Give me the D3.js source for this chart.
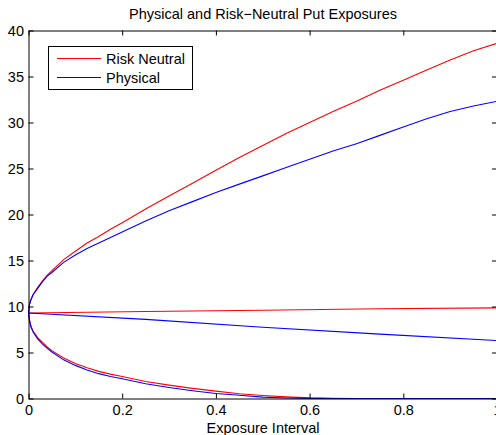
<!DOCTYPE html>
<html>
<head>
<meta charset="utf-8">
<script src="https://cdn.jsdelivr.net/npm/d3@7"></script>
<style>
  body { margin: 0; background: #fff; }
  svg text { font-family: "Liberation Sans", Arial, sans-serif; font-size: 14.5px; fill: #000; }
</style>
</head>
<body>
<div id="chart"></div>
<script>
// exposure interval grid for the upper and lower bands
var exposureTimes = [0, 0.002, 0.005, 0.01, 0.02, 0.03, 0.04, 0.05, 0.075, 0.1, 0.125, 0.15, 0.175, 0.2,
  0.25, 0.3, 0.35, 0.4, 0.45, 0.5, 0.55, 0.6, 0.65, 0.7, 0.75, 0.8, 0.85, 0.9, 0.95, 1.0];

// risk neutral (red)
var rnUpper = [9.3, 10.2, 10.7, 11.3, 12.1, 12.8, 13.4, 13.9, 15.1, 16.0, 16.9, 17.6, 18.4, 19.1,
  20.6, 22.0, 23.4, 24.8, 26.2, 27.5, 28.8, 30.0, 31.2, 32.3, 33.5, 34.6, 35.7, 36.8, 37.8, 38.6];
var rnLower = [9.3, 8.6, 7.9, 7.3, 6.6, 6.1, 5.6, 5.2, 4.4, 3.8, 3.35, 2.95, 2.65, 2.4,
  1.85, 1.45, 1.1, 0.8, 0.52, 0.33, 0.18, 0.07, 0.02, 0, 0, 0, 0, 0, 0, 0];

// physical (blue)
var phUpper = [9.3, 10.2, 10.7, 11.3, 12.0, 12.7, 13.3, 13.7, 14.8, 15.6, 16.3, 16.9, 17.5, 18.1,
  19.3, 20.4, 21.4, 22.4, 23.3, 24.2, 25.1, 26.0, 26.9, 27.7, 28.6, 29.5, 30.4, 31.2, 31.8, 32.3];
var phLower = [9.3, 8.5, 7.8, 7.2, 6.45, 5.9, 5.45, 5.05, 4.2, 3.6, 3.1, 2.7, 2.4, 2.15,
  1.6, 1.2, 0.85, 0.55, 0.35, 0.15, 0.06, 0.01, 0, 0, 0, 0, 0, 0, 0, 0];

// middle (expected) exposures are almost straight, coarser grid is enough
var middleTimes = [0, 0.25, 0.5, 0.75, 1.0];
var rnMiddle = [9.3, 9.45, 9.6, 9.75, 9.85];
var phMiddle = [9.3, 8.6, 7.75, 7.0, 6.3];

var xTicks = [0, 0.2, 0.4, 0.6, 0.8, 1];
var yTicks = [0, 5, 10, 15, 20, 25, 30, 35, 40];
var seriesNames = ['Risk Neutral', 'Physical'];
var seriesColors = ['#ff0000', '#0000ff'];

var width = 496, height = 435;
// plot box (note: "top" is taken by window.top)
var plotLeft = 28.5, plotRight = 497, plotTop = 30.5, plotBottom = 398.5;

var svg = d3.select('#chart').append('svg').attr('width', width).attr('height', height);

var x = d3.scaleLinear().domain([0, 1]).range([plotLeft, plotRight]);
var y = d3.scaleLinear().domain([0, 40]).range([plotBottom, plotTop]);

function curve(times, values) {
  return d3.line()
    .x(function(d, i) { return x(times[i]); })
    .y(function(d) { return y(d); })(values);
}

// lines: red first, blue drawn over it
var lines = [
  [exposureTimes, rnUpper, 0], [middleTimes, rnMiddle, 0], [exposureTimes, rnLower, 0],
  [exposureTimes, phUpper, 1], [middleTimes, phMiddle, 1], [exposureTimes, phLower, 1]
];
svg.append('g').selectAll('path')
  .data(lines)
  .enter()
  .append('path')
  .attr('d', function(d) { return curve(d[0], d[1]); })
  .attr('fill', 'none')
  .attr('stroke', function(d) { return seriesColors[d[2]]; })
  .attr('stroke-width', 1.1);

// box axes, matlab style ticks pointing inwards
svg.append('g').attr('transform', 'translate(0,' + plotBottom + ')')
  .call(d3.axisBottom(x).tickValues(xTicks).tickSizeInner(-5).tickSizeOuter(0).tickPadding(6)
    .tickFormat(function(d) { return d; }));
svg.append('g').attr('transform', 'translate(0,' + plotTop + ')')
  .call(d3.axisTop(x).tickValues(xTicks).tickSizeInner(-5).tickSizeOuter(0).tickFormat(''));
svg.append('g').attr('transform', 'translate(' + plotLeft + ',0)')
  .call(d3.axisLeft(y).tickValues(yTicks).tickSizeInner(-5).tickSizeOuter(0).tickPadding(4.5));
svg.append('g').attr('transform', 'translate(' + plotRight + ',0)')
  .call(d3.axisRight(y).tickValues(yTicks).tickSizeInner(-5).tickSizeOuter(0).tickFormat(''));

svg.selectAll('.domain, .tick line').attr('stroke', '#000').attr('stroke-width', 1);
svg.selectAll('.tick text').attr('font-family', null).attr('font-size', null).attr('fill', '#000');

// title and x label
svg.append('text').attr('x', 263).attr('y', 18.5).attr('text-anchor', 'middle')
  .text('Physical and Risk\u2212Neutral Put Exposures');
svg.append('text').attr('x', 263).attr('y', 432.5).attr('text-anchor', 'middle')
  .text('Exposure Interval');

// legend
var legend = svg.append('g');
legend.append('rect').attr('x', 48.5).attr('y', 46.5).attr('width', 144).attr('height', 43)
  .attr('fill', '#fff').attr('stroke', '#000').attr('stroke-width', 1);
legend.selectAll('line.key')
  .data(seriesNames)
  .enter()
  .append('line')
  .attr('class', 'key')
  .attr('x1', 57).attr('x2', 101)
  .attr('y1', function(d, i) { return 58.5 + i * 19; })
  .attr('y2', function(d, i) { return 58.5 + i * 19; })
  .attr('stroke', function(d, i) { return seriesColors[i]; })
  .attr('stroke-width', 1.1);
legend.selectAll('text')
  .data(seriesNames)
  .enter()
  .append('text')
  .attr('x', 106)
  .attr('y', function(d, i) { return 64 + i * 19; })
  .text(function(d) { return d; });
</script>
</body>
</html>
